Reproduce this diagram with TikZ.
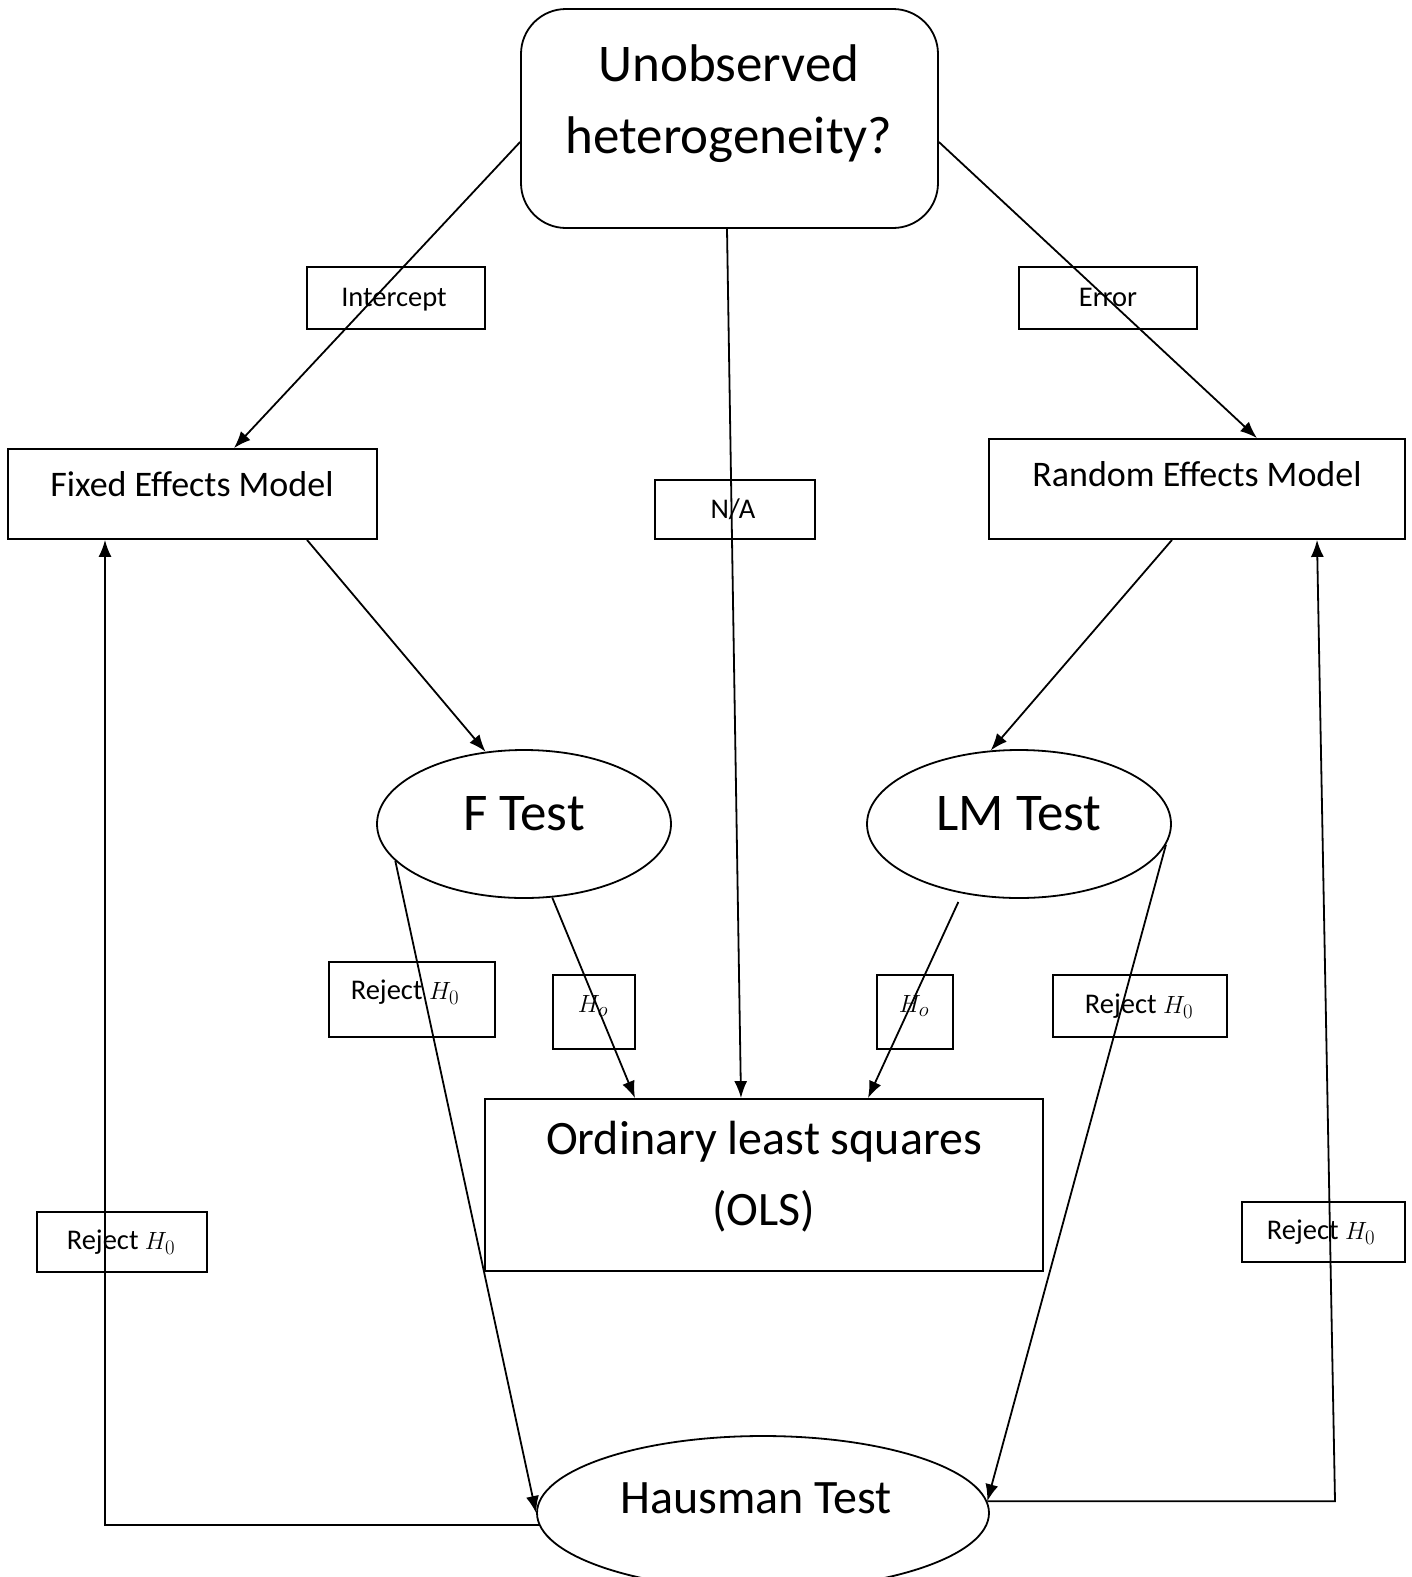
\documentclass[tikz,border=0pt]{standalone}
\usepackage{fontspec}
\setmainfont{Carlito}
\usetikzlibrary{arrows.meta,shapes.geometric,calc}
\begin{document}
\begin{tikzpicture}[x=1pt,y=-1pt,
  box/.style={draw,rectangle,inner sep=0pt,line width=1.8pt},
  ell/.style={draw,ellipse,inner sep=0pt,line width=1.8pt},
  lbl/.style={draw,rectangle,inner sep=0pt,line width=1.8pt},
  txt/.style={inner sep=0pt,anchor=center},
  arr/.style={-{Latex[length=17pt,width=13pt]},line width=1.8pt},
  ln/.style={line width=1.8pt},
  hugef/.style={font=\fontsize{53}{64}\selectfont},
  bigf/.style={font=\fontsize{48}{58}\selectfont},
  medf/.style={font=\fontsize{36}{44}\selectfont},
  smallf/.style={font=\fontsize{28.5}{34}\selectfont}
]
\clip (0,0) rectangle (1412,1577);
\fill[white] (0,0) rectangle (1412,1577);

% main boxes
\node[box,rounded corners=45pt,minimum width=417pt,minimum height=219pt] (top) at (729.5,118.5) {};
\node[txt,hugef] (topa) at (729,63) {Unobserved};
\node[txt,hugef] (topb) at (729,140) {heterogeneity?};

\node[box,minimum width=369pt,minimum height=90pt] (fe) at (192.5,494) {};
\node[txt,medf] (fet) at (192,484) {Fixed Effects Model};

\node[box,minimum width=416pt,minimum height=100pt] (re) at (1197,489) {};
\node[txt,medf] (ret) at (1197,474) {Random Effects Model};

\node[ell,minimum width=294pt,minimum height=148pt] (ft) at (524,824) {};
\node[txt,hugef] (ftt) at (524,814) {F Test};

\node[ell,minimum width=304pt,minimum height=148pt] (lm) at (1019,824) {};
\node[txt,hugef] (lmt) at (1019,814) {LM Test};

\node[box,minimum width=558pt,minimum height=172pt] (ols) at (764,1185) {};
\node[txt,bigf] (olsa) at (764,1142) {Ordinary least squares};
\node[txt,bigf] (olsb) at (764,1211) {(OLS)};

\node[ell,minimum width=452pt,minimum height=154pt] (hm) at (763,1513) {};
\node[txt,bigf] (hmt) at (756,1498) {Hausman Test};

% label boxes
\node[lbl,minimum width=178pt,minimum height=62pt] (lint) at (396,298) {};
\node[txt,smallf] at (394,300) {Intercept};
\node[lbl,minimum width=178pt,minimum height=62pt] (lerr) at (1108,298) {};
\node[txt,smallf] at (1108,297) {Error};
\node[lbl,minimum width=160pt,minimum height=59pt] (lna) at (735,509.5) {};
\node[txt,smallf] at (733,509) {N/A};
\node[lbl,minimum width=166pt,minimum height=75pt] (lrf) at (412,999.5) {};
\node[txt,smallf] at (405,992) {Reject $H_0$};
\node[lbl,minimum width=82pt,minimum height=74pt] (lhf) at (594,1012) {};
\node[txt,smallf] at (593,1006) {$H_o$};
\node[lbl,minimum width=76pt,minimum height=74pt] (lhl) at (915,1012) {};
\node[txt,smallf] at (914,1006) {$H_o$};
\node[lbl,minimum width=174pt,minimum height=62pt] (lrl) at (1140,1006) {};
\node[txt,smallf] at (1139,1006) {Reject $H_0$};
\node[lbl,minimum width=170pt,minimum height=60pt] (lrL) at (122,1242) {};
\node[txt,smallf] at (121,1242) {Reject $H_0$};
\node[lbl,minimum width=163pt,minimum height=60pt] (lrR) at (1323.5,1232) {};
\node[txt,smallf] at (1321,1232) {Reject $H_0$};

% connectors
\draw[arr] ([yshift=-23.5pt]top.west) -- ([xshift=41.5pt]fe.north);
\draw[arr] ([yshift=-23.5pt]top.east) -- ([xshift=60pt]re.north);
\draw[arr] ([xshift=-2.5pt]top.south) -- ([xshift=-23pt]ols.north);
\draw[arr] ([xshift=114.5pt]fe.south) -- (ft.118);
\draw[arr] ([xshift=-25pt]re.south) -- (lm.111);
\draw[arr] (ft.-69) -- ([xshift=-129pt]ols.north);
\draw[arr] ([shift={(-6pt,-8pt)}]lm.-128) -- ([xshift=104pt]ols.north);
\draw[arr] (ft.-164) -- (hm.west);
\draw[arr] (lm.-8) -- (hm.3);
\draw[arr] (hm.183) -| ([xshift=-87.5pt]fe.south);
\coordinate (rc) at (1335,0);
\draw[arr] (hm.3) -- (hm.3 -| rc) -- ([xshift=120pt]re.south);
\end{tikzpicture}
\end{document}
